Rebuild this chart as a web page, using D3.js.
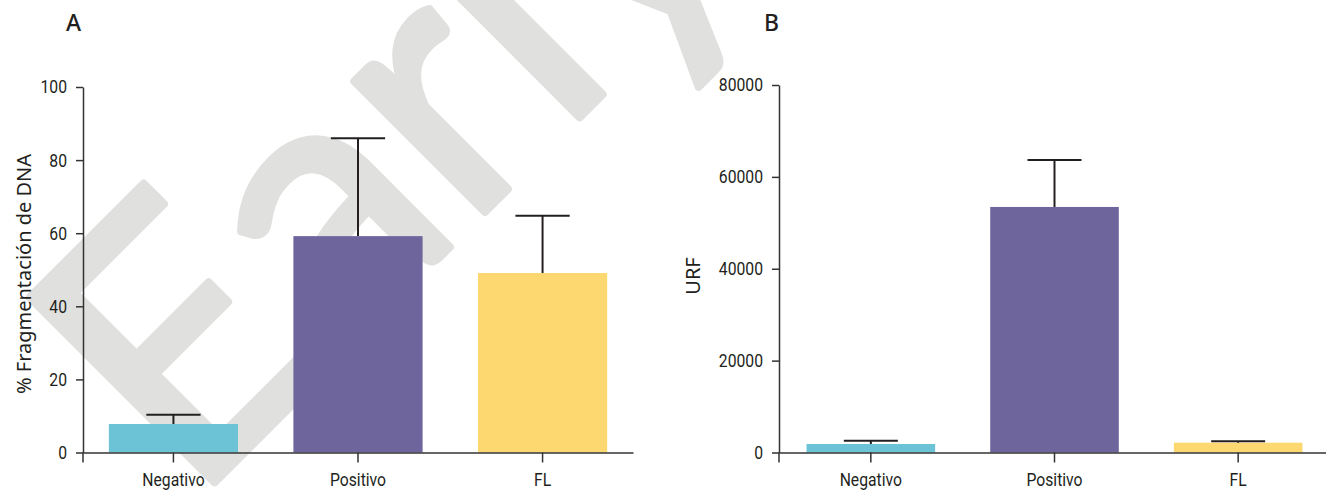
<!DOCTYPE html>
<html>
<head>
<meta charset="utf-8">
<script src="https://cdn.jsdelivr.net/npm/d3@7"></script>
<style>
  html, body { margin: 0; padding: 0; background: #fff; }
  svg { display: block; }
</style>
</head>
<body>
<div id="chart"></div>
<script>
// Data.
var categories = [ 'Negativo', 'Positivo', 'FL' ];
var barColors  = [ '#6cc3d5', '#6e659d', '#fdd870' ];

// Panel A – % Fragmentación de DNA (mean, upper error)
var fragMean  = [ 7.8, 59.2, 49.1 ];
var fragErr   = [ 2.5, 26.8, 15.7 ];
var fragTicks = [ 0, 20, 40, 60, 80, 100 ];

// Panel B – URF (mean, upper error)
var urfMean  = [ 1850, 53450, 2130 ];
var urfErr   = [ 720, 10220, 310 ];
var urfTicks = [ 0, 20000, 40000, 60000, 80000 ];

var W = 1326, H = 491;
var AXIS = '#333333';
var TEXT = '#231f20';
var TICK_FONT = 'Roboto, sans-serif';
var LABEL_FONT = '"Noto Sans", "Open Sans", sans-serif';

var svg = d3.select( '#chart' ).append( 'svg' )
	.attr( 'width', W )
	.attr( 'height', H );

// watermark
svg.append( 'text' )
	.attr( 'transform', 'translate(191,506) rotate(-45)' )
	.attr( 'fill', '#e0e1df' )
	.attr( 'stroke', '#e0e1df' )
	.attr( 'stroke-width', 8 )
	.attr( 'stroke-linejoin', 'round' )
	.style( 'font-family', 'Lato, sans-serif' )
	.style( 'font-weight', 400 )
	.style( 'font-size', '365px' )
	.text( 'Early' );

// squeeze tick labels a bit to look like the condensed face of the original
function condense( s ) {
	s.selectAll( 'text' )
		.attr( 'fill', TEXT )
		.style( 'font-family', TICK_FONT )
		.style( 'font-size', '18.5px' )
		.each( function () {
			var w = this.getComputedTextLength();
			d3.select( this )
				.attr( 'textLength', w * 0.85 )
				.attr( 'lengthAdjust', 'spacingAndGlyphs' );
		} );
}

function panel( opts ) {
	var rows = categories.map( function ( c, i ) {
		return { cat: c, mean: opts.mean[ i ], err: opts.err[ i ], color: barColors[ i ] };
	} );

	var x = d3.scaleBand()
		.domain( categories )
		.range( opts.xRange )
		.paddingInner( 0.3 )
		.paddingOuter( opts.pad );

	var y = d3.scaleLinear()
		.domain( opts.yDomain )
		.range( opts.yRange );

	var g = svg.append( 'g' );

	// bars
	g.selectAll( 'rect.bar' )
		.data( rows )
		.join( 'rect' )
		.attr( 'class', 'bar' )
		.attr( 'x', function ( d ) { return x( d.cat ); } )
		.attr( 'y', function ( d ) { return y( d.mean ); } )
		.attr( 'width', x.bandwidth() )
		.attr( 'height', function ( d ) { return y( 0 ) - y( d.mean ); } )
		.attr( 'fill', function ( d ) { return d.color; } );

	// error bars (upper only)
	var cap = x.bandwidth() * 0.21;
	var eb = g.selectAll( 'g.err' ).data( rows ).join( 'g' ).attr( 'class', 'err' );
	eb.append( 'line' )
		.attr( 'x1', function ( d ) { return x( d.cat ) + x.bandwidth() / 2; } )
		.attr( 'x2', function ( d ) { return x( d.cat ) + x.bandwidth() / 2; } )
		.attr( 'y1', function ( d ) { return y( d.mean ); } )
		.attr( 'y2', function ( d ) { return y( d.mean + d.err ); } );
	eb.append( 'line' )
		.attr( 'x1', function ( d ) { return x( d.cat ) + x.bandwidth() / 2 - cap; } )
		.attr( 'x2', function ( d ) { return x( d.cat ) + x.bandwidth() / 2 + cap; } )
		.attr( 'y1', function ( d ) { return y( d.mean + d.err ); } )
		.attr( 'y2', function ( d ) { return y( d.mean + d.err ); } );
	eb.selectAll( 'line' )
		.attr( 'stroke', TEXT )
		.attr( 'stroke-width', 2 );

	// y axis
	g.append( 'g' )
		.attr( 'transform', 'translate(' + opts.xRange[ 0 ] + ',0)' )
		.call( d3.axisLeft( y ).tickValues( opts.ticks ).tickSize( 7 ).tickSizeOuter( 0 ).tickPadding( 9 ).tickFormat( d3.format( 'd' ) ) )
		.call( function ( s ) {
			s.selectAll( 'path, line' ).attr( 'stroke', AXIS ).attr( 'stroke-width', 1.5 );
			condense( s );
		} );

	// y axis line runs a little below the baseline
	g.append( 'line' )
		.attr( 'x1', opts.xRange[ 0 ] ).attr( 'x2', opts.xRange[ 0 ] )
		.attr( 'y1', y( 0 ) ).attr( 'y2', y( 0 ) + 10 )
		.attr( 'stroke', AXIS ).attr( 'stroke-width', 1.5 );

	// x axis
	g.append( 'g' )
		.attr( 'transform', 'translate(0,' + y( 0 ) + ')' )
		.call( d3.axisBottom( x ).tickSize( 10 ).tickSizeOuter( 0 ).tickPadding( 10.5 ) )
		.call( function ( s ) {
			s.selectAll( 'path, line' ).attr( 'stroke', AXIS ).attr( 'stroke-width', 1.5 );
			condense( s );
		} );

	// axis title
	g.append( 'text' )
		.attr( 'transform', 'translate(' + opts.titleX + ',' + opts.titleY + ') rotate(-90)' )
		.attr( 'text-anchor', 'middle' )
		.attr( 'fill', TEXT )
		.style( 'font-family', LABEL_FONT )
		.style( 'font-size', '20px' )
		.text( opts.title );

	// panel letter
	g.append( 'text' )
		.attr( 'x', opts.letterX )
		.attr( 'y', 31 )
		.attr( 'fill', TEXT )
		.style( 'font-family', LABEL_FONT )
		.style( 'font-weight', 500 )
		.style( 'font-size', '23px' )
		.text( opts.letter );
}

panel( {
	mean: fragMean, err: fragErr, ticks: fragTicks,
	xRange: [ 83, 633 ], pad: 0.14,
	yDomain: [ 0, 100 ], yRange: [ 452.5, 87 ],
	title: '% Fragmentación de DNA', titleX: 31, titleY: 274,
	letter: 'A', letterX: 66
} );

panel( {
	mean: urfMean, err: urfErr, ticks: urfTicks,
	xRange: [ 779, 1330 ], pad: 0.15,
	yDomain: [ 0, 80000 ], yRange: [ 452.5, 85 ],
	title: 'URF', titleX: 700, titleY: 276,
	letter: 'B', letterX: 764
} );
</script>
</body>
</html>
